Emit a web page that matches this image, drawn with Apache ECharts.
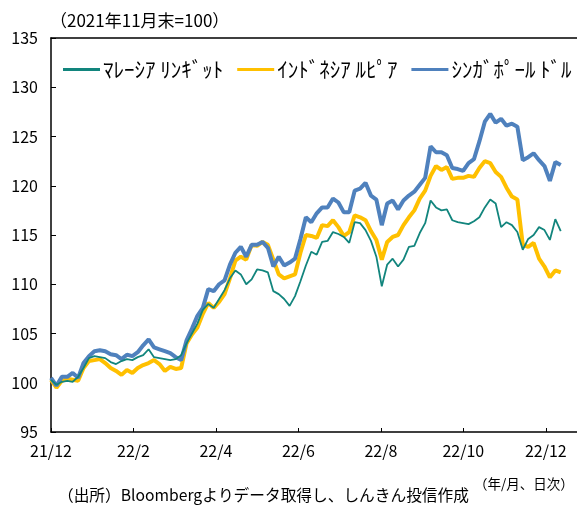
<!DOCTYPE html>
<html>
<head>
<meta charset="utf-8">
<script src="https://cdn.jsdelivr.net/npm/echarts@6/dist/echarts.min.js"></script>
<style>
  html, body { margin: 0; padding: 0; background: #fff; }
  #main { width: 577px; height: 506px; }
</style>
</head>
<body>
<div id="main"></div>
<script>
// 2021年11月末=100、4日おきに読み取り（起点 2021/12/1）
const STEP_DAYS = 4
const tickLabels = ['21/12', '22/2', '22/4', '22/6', '22/8', '22/10', '22/12']
const seriesNames = ['ﾏﾚｰｼｱ ﾘﾝｷﾞｯﾄ', 'ｲﾝﾄﾞﾈｼｱ ﾙﾋﾟｱ', 'ｼﾝｶﾞﾎﾟｰﾙ ﾄﾞﾙ']

const myr = [
  100.3, 99.8, 100.1, 100.2, 100.1, 100.6, 101.5, 102.5, 102.7, 102.6,
  102.5, 102.1, 101.9, 102.2, 102.4, 102.3, 102.6, 102.8, 103.4, 102.6,
  102.5, 102.4, 102.3, 102.4, 102.8, 104.0, 105.0, 106.0, 107.4, 108.0,
  107.6, 108.5, 109.4, 110.6, 111.4, 111.0, 110.0, 110.5, 111.5, 111.4,
  111.2, 109.3, 109.0, 108.5, 107.8, 108.8, 110.3, 111.9, 113.3, 113.0,
  114.3, 114.4, 115.3, 115.1, 114.8, 114.2, 116.3, 116.2, 115.5, 114.4,
  112.8, 109.8, 112.0, 112.6, 111.8, 112.5, 113.8, 113.9, 115.2, 116.2,
  118.5, 117.8, 117.5, 117.6, 116.5, 116.3, 116.2, 116.1, 116.4, 116.8,
  117.8, 118.6, 118.2, 115.8, 116.3, 116.0, 115.3, 113.5, 114.6, 115.0,
  115.8, 115.5, 114.5, 116.6, 115.4
]
const idr = [
  100.3, 99.5, 100.2, 100.4, 100.3, 100.2, 101.5, 102.2, 102.3, 102.4,
  102.0, 101.5, 101.2, 100.8, 101.3, 101.0, 101.5, 101.8, 102.0, 102.3,
  101.9, 101.2, 101.6, 101.4, 101.5, 104.0, 104.9, 105.6, 107.0, 108.1,
  107.6, 108.2, 109.0, 110.6, 112.4, 112.8, 112.5, 114.0, 113.9, 114.3,
  114.0, 112.5, 111.0, 110.6, 110.8, 111.0, 113.2, 115.0, 114.9, 114.7,
  116.0, 115.9, 116.5, 115.8, 114.9, 115.3, 117.0, 116.8, 116.5, 115.4,
  114.5, 112.5, 114.3, 114.8, 115.0, 116.0, 116.8, 117.5, 118.7, 119.5,
  121.0, 122.0, 121.6, 121.9, 120.7, 120.8, 120.8, 121.0, 120.9, 121.8,
  122.5, 122.3, 121.4, 120.9, 119.8, 118.9, 118.6, 114.0, 113.8, 114.2,
  112.6, 111.8, 110.7, 111.4, 111.2
]
const sgd = [
  100.5, 99.7, 100.6, 100.6, 101.0, 100.5, 102.0, 102.7, 103.2, 103.3,
  103.2, 102.9, 102.8, 102.4, 102.85, 102.7, 103.1, 103.8, 104.4, 103.6,
  103.4, 103.2, 103.0, 102.6, 102.3, 104.3, 105.5, 106.8, 107.6, 109.5,
  109.3, 110.0, 110.4, 112.0, 113.2, 113.8, 112.8, 114.0, 114.0, 114.3,
  113.7, 111.8, 112.8, 111.9, 112.2, 112.6, 114.6, 116.8, 116.3, 117.2,
  117.8, 117.8, 118.7, 118.3, 117.3, 117.3, 119.5, 119.7, 120.3, 119.0,
  118.6, 116.0, 118.2, 118.5, 117.6, 118.5, 119.0, 119.4, 120.1, 120.8,
  124.0, 123.4, 123.4, 123.1, 121.8, 121.7, 121.5, 122.3, 122.7, 124.5,
  126.5, 127.3, 126.4, 126.8, 126.1, 126.3, 126.0, 122.6, 122.9, 123.3,
  122.6, 122.0, 120.5, 122.4, 122.1
]

const TICK_DAYS = 365 / 6
const toPoints = arr => arr.map((v, i) => [i * STEP_DAYS, v])
const font = '"Noto Sans CJK JP", sans-serif'

const chart = echarts.init(document.getElementById('main'))
chart.setOption({
  backgroundColor: '#fff',
  animation: false,
  textStyle: { fontFamily: font, color: '#000' },
  grid: { left: 51, right: 0, top: 38, bottom: 74 },
  title: [
    { text: '（2021年11月末=100）', left: 45, top: 7,
      textStyle: { fontSize: 17, fontWeight: 'normal', fontFamily: font, color: '#000' } },
    { text: '（年/月、日次）', left: 469, top: 472,
      textStyle: { fontSize: 13.5, fontWeight: 'normal', fontFamily: font, color: '#000' } },
    { text: '（出所）Bloombergよりデータ取得し、しんきん投信作成', left: 53, top: 482,
      textStyle: { fontSize: 15.7, fontWeight: 'normal', fontFamily: font, color: '#000' } }
  ],
  legend: {
    data: seriesNames,
    left: 58, top: 54,
    icon: 'rect', itemWidth: 37, itemHeight: 3, itemGap: 14,
    textStyle: { fontSize: 21, fontFamily: font, color: '#000', padding: [0, 0, 0, -2] }
  },
  xAxis: [{
    type: 'value',
    min: 0, max: 388, interval: TICK_DAYS,
    axisLine: { lineStyle: { color: '#000', width: 1.5 } },
    axisTick: { inside: true, length: 4, lineStyle: { color: '#000' } },
    splitLine: { show: false },
    axisLabel: {
      fontSize: 16, color: '#000', margin: 11, showMaxLabel: false,
      formatter: v => tickLabels[Math.round(v / TICK_DAYS)] || ''
    }
  }, {
    type: 'value', position: 'top',
    min: 0, max: 388,
    axisLine: { show: true, onZero: false, lineStyle: { color: '#000', width: 1.5 } },
    axisTick: { show: false }, axisLabel: { show: false }, splitLine: { show: false }
  }],
  yAxis: {
    type: 'value',
    min: 95, max: 135, interval: 5,
    axisLine: { show: true, lineStyle: { color: '#000', width: 1.5 } },
    axisTick: { show: true, inside: true, length: 5, lineStyle: { color: '#000' } },
    splitLine: { show: false },
    axisLabel: { fontSize: 16, color: '#000', margin: 13 }
  },
  series: [
    { name: seriesNames[1], type: 'line', showSymbol: false, z: 2,
      data: toPoints(idr), lineStyle: { color: '#ffc000', width: 4 }, itemStyle: { color: '#ffc000' } },
    { name: seriesNames[2], type: 'line', showSymbol: false, z: 3,
      data: toPoints(sgd), lineStyle: { color: '#4f81bd', width: 4 }, itemStyle: { color: '#4f81bd' } },
    { name: seriesNames[0], type: 'line', showSymbol: false, z: 4,
      data: toPoints(myr), lineStyle: { color: '#12857d', width: 1.8 }, itemStyle: { color: '#12857d' } }
  ]
})
</script>
</body>
</html>
